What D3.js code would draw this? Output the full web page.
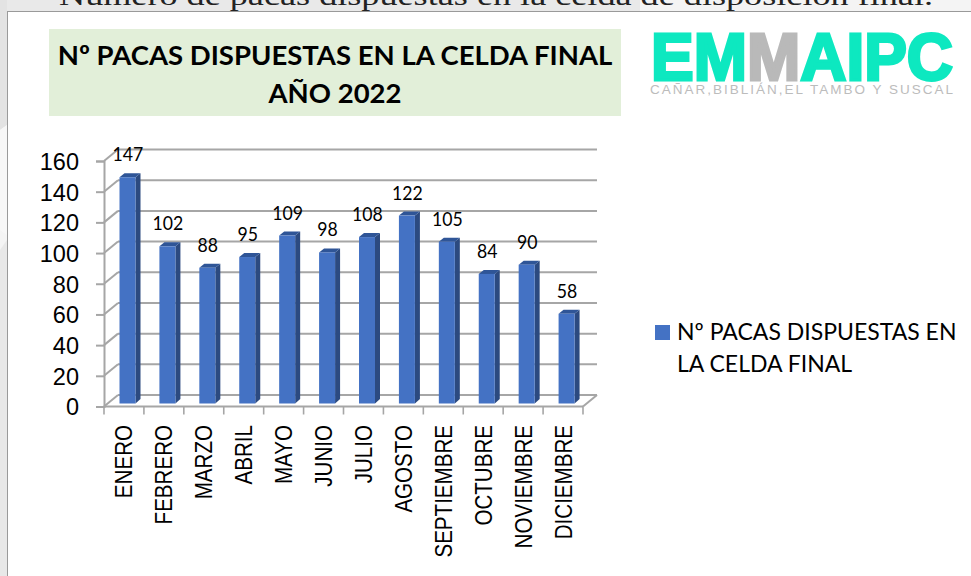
<!DOCTYPE html>
<html><head><meta charset="utf-8">
<script src="https://cdn.jsdelivr.net/npm/d3@7/dist/d3.min.js"></script>
<style>html,body{margin:0;padding:0;background:#fff}svg{display:block}</style></head>
<body><svg id="c" width="971" height="576"></svg>
<script>
const categories=["ENERO","FEBRERO","MARZO","ABRIL","MAYO","JUNIO","JULIO","AGOSTO","SEPTIEMBRE","OCTUBRE","NOVIEMBRE","DICIEMBRE"];
const values=[147,102,88,95,109,98,108,122,105,84,90,58];
const yTicks=[0,20,40,60,80,100,120,140,160];
const seriesName=["Nº PACAS DISPUESTAS EN","LA CELDA FINAL"];
const titleLines=["Nº PACAS DISPUESTAS EN LA CELDA FINAL","AÑO 2022"];
const caption="Número de pacas dispuestas en la celda de disposición final.";
const logoParts=[["EM","#0de8c0"],["M","#b9b9b9"],["AIPC","#0de8c0"]];
const logoSub="CAÑAR,BIBLIÁN,EL TAMBO Y SUSCAL";

const svg=d3.select("#c");
const sans="'Liberation Sans',Arial,sans-serif", cal="Lato,Carlito,sans-serif";
const grey="#a6a6a6";
svg.append("rect").attr("width",971).attr("height",576).attr("fill","#f4f4f4");
svg.append("rect").attr("width",640).attr("height",11).attr("fill","#e9e9e9");
svg.append("path").attr("d","M0 0 H7 V125 L0 130Z").attr("fill","#e3e3e3");
svg.append("path").attr("d","M0 130 L7 125 V235 L0 230Z").attr("fill","#f7f7f7");
svg.append("path").attr("d","M0 250 L7 240 L7 576 L0 576Z").attr("fill","#e8e8e8");
svg.append("text").attr("x",496).attr("y",5).attr("text-anchor","middle")
  .attr("font-family","'Liberation Serif',serif").attr("font-size",28).attr("textLength",874).attr("lengthAdjust","spacingAndGlyphs").attr("fill","#222").text(caption);
svg.append("rect").attr("x",7.5).attr("y",11.5).attr("width",970).attr("height",570).attr("fill","#fff").attr("stroke","#9a9a9a").attr("stroke-width",1);
svg.append("rect").attr("x",49).attr("y",29).attr("width",572).attr("height",87).attr("fill","#e2efd9");
svg.append("g").selectAll("text").data(titleLines).join("text")
  .attr("x",335).attr("y",(d,i)=>65+i*38).attr("text-anchor","middle")
  .attr("font-family",cal).attr("font-weight",700).attr("font-size",27.5).attr("fill","#000").text(d=>d);
const logo=svg.append("text").attr("x",651).attr("y",80).attr("font-family",sans).attr("font-weight",700)
  .attr("font-size",66).attr("textLength",302).attr("lengthAdjust","spacingAndGlyphs").attr("stroke-width",3);
logo.selectAll("tspan").data(logoParts).join("tspan").attr("fill",d=>d[1]).attr("stroke",d=>d[1]).text(d=>d[0]);
svg.append("text").attr("x",650).attr("y",94).attr("font-family",sans).attr("font-size",13.5)
  .attr("textLength",303).attr("fill","#bcbcbc").text(logoSub);

const x0=104,x1=583,yB=406.5,yT=161,dx=14,dy=11.5;
const x=d3.scaleBand().domain(categories).range([x0,x1]);
const y=d3.scaleLinear().domain([0,160]).range([yB,yT]);
const g=svg.append("g");
yTicks.forEach(t=>{
  g.append("line").attr("x1",x0).attr("y1",y(t)).attr("x2",x0+dx).attr("y2",y(t)-dy).attr("stroke",grey).attr("stroke-width",2);
  g.append("line").attr("x1",x0+dx).attr("y1",y(t)-dy).attr("x2",x1+dx).attr("y2",y(t)-dy).attr("stroke",grey).attr("stroke-width",2);
});
g.append("line").attr("x1",x1).attr("y1",yB).attr("x2",x1+dx).attr("y2",yB-dy).attr("stroke",grey).attr("stroke-width",2);
const ax=g.append("g").attr("transform",`translate(${x0},0)`).call(d3.axisLeft(y).tickValues(yTicks).tickSize(8).tickPadding(17));
ax.selectAll("path").attr("stroke",grey).attr("stroke-width",2);
ax.selectAll("line").attr("stroke",grey).attr("stroke-width",2);
ax.selectAll("text").attr("font-family",sans).attr("font-size",23.5).attr("fill","#000").attr("dy","0.36em");
const xb=g.append("g").attr("transform",`translate(0,${yB})`).call(d3.axisBottom(x).tickSize(0).tickFormat(""));
xb.select("path").attr("stroke",grey).attr("stroke-width",2).attr("d",`M${x0},0H${x1}`);
xb.selectAll(".tick").remove();
const ends=[...categories.map(c=>x(c)),x1];
g.append("g").selectAll("line").data(ends).join("line")
  .attr("x1",d=>d).attr("x2",d=>d).attr("y1",yB).attr("y2",yB+8).attr("stroke",grey).attr("stroke-width",1.6);
const bL=15.5,bW=16,sd=5,cap=4;
const bars=g.append("g").selectAll("g").data(values).join("g");
const bx=(d,i)=>x(categories[i])+bL;
const by=d=>y(d)-3.7;
bars.append("path").attr("fill","#2c4a80").attr("d",(d,i)=>{
  const l=bx(d,i)+bW,t=by(d);return `M${l} ${t}L${l+sd} ${t-cap}V${yB-3-cap-0.5}L${l} ${yB-3}Z`;});
bars.append("path").attr("fill","#2f5597").attr("d",(d,i)=>{
  const l=bx(d,i),t=by(d);return `M${l} ${t}L${l+sd} ${t-cap}H${l+bW+sd}L${l+bW} ${t}Z`;});
bars.append("rect").attr("x",bx).attr("y",by).attr("width",bW).attr("height",d=>yB-3-by(d)).attr("fill","#4472c4");
g.append("g").selectAll("text").data(values).join("text")
  .attr("transform",(d,i)=>`translate(${x(categories[i])+x.bandwidth()/2+4},${by(d)-16}) scale(0.93,1)`)
  .attr("text-anchor","middle").attr("font-family",cal).attr("font-size",19).attr("fill","#000").text(d=>d);
g.append("g").selectAll("text").data(categories).join("text")
  .attr("transform",c=>`translate(${x(c)+x.bandwidth()/2+8.5},425) rotate(-90) scale(0.84,1)`)
  .attr("text-anchor","end").attr("font-family",sans).attr("font-size",24.5).attr("fill","#000").text(c=>c);
svg.append("rect").attr("x",655).attr("y",325).attr("width",15).attr("height",15).attr("fill","#4472c4");
svg.append("g").selectAll("text").data(seriesName).join("text").attr("x",677).attr("y",(d,i)=>340+i*32)
  .attr("font-family",cal).attr("font-size",23).attr("fill","#000").text(d=>d);
</script></body></html>
